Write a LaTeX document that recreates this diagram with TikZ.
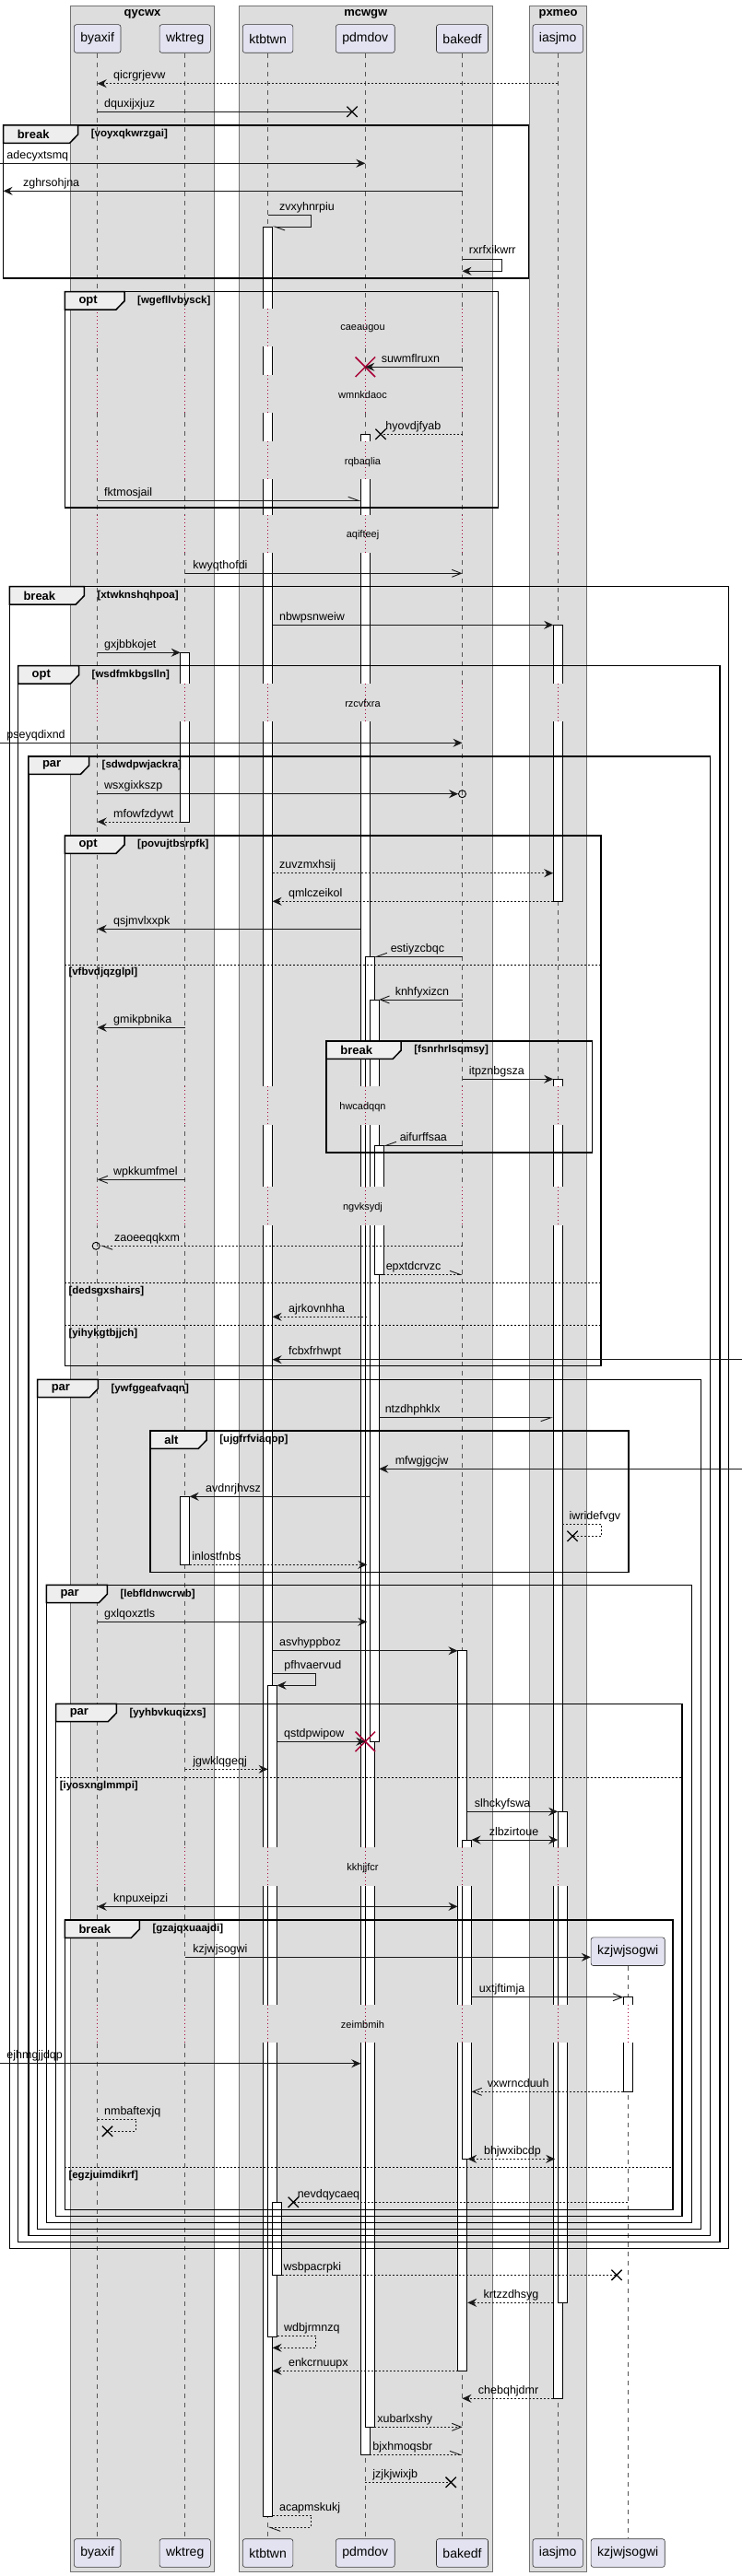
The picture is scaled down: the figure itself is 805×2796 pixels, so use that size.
\documentclass[tikz,border=0pt]{standalone}
\usepackage{fontspec}
\setmainfont{Liberation Sans}
\usetikzlibrary{arrows.meta,calc,shapes.misc}
\definecolor{boxGray}{HTML}{DDDDDD}
\definecolor{partFill}{HTML}{E2E2F0}
\definecolor{tabFill}{HTML}{EEEEEE}
\definecolor{delayRed}{HTML}{A80036}
\definecolor{lineGray}{HTML}{555555}
\newcommand{\msgfont}{\fontsize{12.5}{14}\selectfont}
% frame: x1, y1, x2, y2, keyword, tab width, guard
\newcommand{\seqframe}[7]{%
  \draw[grpframe] (#1,#2) rectangle (#3,#4);
  \draw[grptab] (#1,#2) -- ++(#6,0) -- ++(0,10) -- ++(-9,9.3) -- (#1,#2+19.3) -- cycle;
  \node[kw] (#7-kw) at (#1+15,#2+9.8) {#5};
  \node[guard] (#7) at (#1+#6+14,#2+9.8) {[#7]};
}
% else line: x1, x2, y, guard
\newcommand{\seqelse}[4]{%
  \draw[elseline] (#1,#3) -- (#2,#3);
  \node[guard] (#4) at (#1+4,#3+9) {[#4]};
}

\begin{document}
\begin{tikzpicture}[x=1pt, y=-1pt,
    partbox/.style={draw=black!80, fill=partFill, rounded corners=2.5pt, line width=0.6pt,
      minimum height=30.6pt, inner xsep=7pt, inner ysep=0pt, font=\fontsize{14}{16}\selectfont},
    grp/.style={draw=black!55, fill=boxGray, line width=0.6pt},
    grptitle/.style={font=\fontsize{13}{15}\selectfont\bfseries},
    life/.style={draw=lineGray, line width=0.7pt, dash pattern=on 5pt off 5pt},
    act/.style={draw=black, fill=white, line width=0.8pt},
    dly/.style={draw=delayRed, line width=0.8pt, dash pattern=on 1pt off 3pt},
    dlytxt/.style={font=\fontsize{11}{13}\selectfont},
    grpframe/.style={draw=black, line width=1.5pt},
    grptab/.style={draw=black, fill=tabFill, line width=1.5pt},
    kw/.style={anchor=west, inner sep=0pt, font=\fontsize{13}{15}\selectfont\bfseries},
    guard/.style={anchor=west, inner sep=0pt, font=\fontsize{11.5}{13}\selectfont\bfseries},
    elseline/.style={draw=black, line width=0.8pt, dash pattern=on 2pt off 2pt},
    msg/.style={draw=black!90, line width=0.9pt},
    dotmsg/.style={dash pattern=on 2pt off 2pt},
    sol/.style={-{Stealth[length=10pt,width=9pt,inset=3.5pt]}},
    bidir/.style={{Stealth[length=10pt,width=9pt,inset=3.5pt]}-{Stealth[length=10pt,width=9pt,inset=3.5pt]}},
    opn/.style={-{Straight Barb[length=10pt,width=8pt]}},
    hl/.style={-{Straight Barb[left,length=11pt,width=8pt]}},
    hr/.style={-{Straight Barb[right,length=11pt,width=8pt]}},
    lb/.style={anchor=base west, inner sep=0pt, yshift=5pt, font=\msgfont},
    lr/.style={lb, at start, xshift=7pt},
    ll/.style={lb, at end, xshift=17pt},
    xm/.style={cross out, draw=black, line width=1.3pt, minimum size=10pt, inner sep=0pt},
    rx/.style={cross out, draw=delayRed, line width=1.5pt, minimum size=20pt, inner sep=0pt},
    circ/.style={circle, draw=black, line width=0.9pt, minimum size=8pt, inner sep=0pt}
  ]
  \useasboundingbox (0,0) rectangle (805,2796);
  \fill[white] (0,0) rectangle (805,2796);

  % lifeline positions
  \coordinate (lft) at (0,0);
  \coordinate (rgt) at (805,0);
  \coordinate (by) at (105.7,0);
  \coordinate (wk) at (200.7,0);
  \coordinate (kt) at (290.6,0);
  \coordinate (pd) at (396.3,0);
  \coordinate (ba) at (501.5,0);
  \coordinate (ia) at (605.2,0);
  \coordinate (kz) at (681.2,0);

  % participant boxes
  \draw[grp] (76.5,6) rectangle (232.5,2791);
  \draw[grp] (259.2,6) rectangle (534.4,2791);
  \draw[grp] (574.4,6) rectangle (636.6,2791);
  \node[grptitle] (qycwx) at (154.5,15.5) {qycwx};
  \node[grptitle] (mcwgw) at (396.8,15.5) {mcwgw};
  \node[grptitle] (pxmeo) at (605.5,15.5) {pxmeo};

  % participants and lifelines
  \foreach \p/\n in {by/byaxif, wk/wktreg, kt/ktbtwn, pd/pdmdov, ba/bakedf, ia/iasjmo} {
    \node[partbox] (\n) at ($(\p)+(0,42)$) {\n};
    \node[partbox] (\n-b) at ($(\p)+(0,2771)$) {\n};
    \draw[life] (\n) -- (\n-b);
  }
  \node[partbox] (kzjwjsogwi) at ($(kz)+(0,2118.2)$) {kzjwjsogwi};
  \node[partbox] (kzjwjsogwi-b) at ($(kz)+(0,2771)$) {kzjwjsogwi};
  \draw[life] (kzjwjsogwi) -- (kzjwjsogwi-b);

  % activations
  \draw[act] (285.6,246) rectangle (295.6,2731);
  \draw[act] (290.6,1829.3) rectangle (300.6,2536);
  \draw[act] (295.6,2390.3) rectangle (305.6,2469.3);
  \draw[act] (391.3,471.3) rectangle (401.3,2664.3);
  \draw[act] (396.3,1038.3) rectangle (406.3,2634.3);
  \draw[act] (401.3,1085) rectangle (411.3,1890.3);
  \draw[act] (406.3,1243.3) rectangle (416.3,1383.3);
  \draw[act] (496.5,1791.7) rectangle (506.5,2573.3);
  \draw[act] (501.5,1997) rectangle (511.5,2343.3);
  \draw[act] (600.2,678.3) rectangle (610.2,978.3);
  \draw[act] (600.2,1171.3) rectangle (610.2,2603.3);
  \draw[act] (605.2,1966.3) rectangle (615.2,2499.3);
  \draw[act] (195.7,708.3) rectangle (205.7,892);
  \draw[act] (195.7,1624.3) rectangle (205.7,1698.3);
  \draw[act] (676.2,2167.7) rectangle (686.2,2270.3);

  % delays
  \foreach \ya/\yb in {335/375.7, 406.7/448.3, 479.3/520.3, 558.7/600, 741.7/783.3,
      1179.3/1221, 1288.3/1330, 2005/2046.7, 2175.7/2216.7} {
    \foreach \lx in {105.7,200.7,290.6,396.3,501.5,605.2} {
      \fill[boxGray] (\lx-7,\ya) rectangle (\lx+22,\yb);
      \draw[dly] (\lx,\ya) -- (\lx,\yb);
    }
  }
  \fill[white] (674.2,2175.7) rectangle (703.2,2216.7);
  \draw[dly] (681.2,2175.7) -- (681.2,2216.7);
  \node[dlytxt] (caeaugou) at (393.5,356.7) {caeaugou};
  \node[dlytxt] (wmnkdaoc) at (393.5,428.3) {wmnkdaoc};
  \node[dlytxt] (rqbaqlia) at (393.5,501.7) {rqbaqlia};
  \node[dlytxt] (aqifteej) at (393.5,580.7) {aqifteej};
  \node[dlytxt] (rzcvfxra) at (393.5,763.3) {rzcvfxra};
  \node[dlytxt] (hwcadqqn) at (393.5,1201.7) {hwcadqqn};
  \node[dlytxt] (ngvksydj) at (393.5,1310.7) {ngvksydj};
  \node[dlytxt] (kkhjjfcr) at (393.5,2027.3) {kkhjjfcr};
  \node[dlytxt] (zeimbmih) at (393.5,2197.7) {zeimbmih};

  % frames
  \seqframe{3.6}{136}{573.4}{302}{break}{81}{voyxqkwrzgai}
  \seqframe{70.3}{316.7}{540.6}{551}{opt}{64.7}{wgefllvbysck}
  \seqframe{10.3}{636.7}{790.5}{2440.7}{break}{81}{xtwknshqhpoa}
  \seqframe{19.5}{722.7}{780.8}{2433.7}{opt}{66}{wsdfmkbgslln}
  \seqframe{30.8}{821}{770.5}{2426.7}{par}{65.7}{sdwdpwjackra}
  \seqframe{70.3}{907}{652}{1482.7}{opt}{64.7}{povujtbsrpfk}
  \seqelse{70.3}{652}{1047}{vfbvdjqzglpl}
  \seqelse{70.3}{652}{1392.7}{dedsgxshairs}
  \seqelse{70.3}{652}{1438.7}{yihykgtbjjch}
  \seqframe{354.2}{1130}{642.7}{1251}{break}{81}{fsnrhrlsqmsy}
  \seqframe{40.6}{1497.3}{760.3}{2419.3}{par}{65.7}{ywfggeafvaqn}
  \seqframe{163.2}{1553}{682.2}{1706.7}{alt}{61}{ujgfrfviaqop}
  \seqframe{50.3}{1720.3}{750.5}{2412.3}{par}{66}{lebfldnwcrwb}
  \seqframe{60.6}{1849.3}{740.2}{2405.3}{par}{65.7}{yyhbvkuqizxs}
  \seqelse{60.6}{740.2}{1929.3}{iyosxnglmmpi}
  \seqframe{70.3}{2084}{730}{2398.3}{break}{81}{gzajqxuaajdi}
  \seqelse{70.3}{730}{2352.3}{egzjuimdikrf}

  % end marks
  \node[xm] (x1) at ($(pd)+(-14.3,121.3)$) {};
  \node[rx] (x2) at ($(pd)+(0,398.3)$) {};
  \node[xm] (x3) at ($(pd)+(16.7,471.3)$) {};
  \node[circ] (c1) at ($(ba)+(0,861.7)$) {};
  \node[circ] (c2) at ($(by)+(-1.5,1352.3)$) {};
  \node[xm] (x4) at ($(ia)+(15.9,1667.3)$) {};
  \node[rx] (x5) at ($(pd)+(0,1890.3)$) {};
  \node[xm] (x6) at ($(by)+(10.8,2313.3)$) {};
  \node[xm] (x7) at ($(kt)+(27.7,2390.3)$) {};
  \node[xm] (x8) at ($(kz)+(-12.2,2469.3)$) {};
  \node[xm] (x9) at ($(ba)+(-12.3,2694.3)$) {};

  % messages
  \draw[msg,dotmsg,sol] ($(ia)+(0,90.7)$) -- ($(by)+(0,90.7)$) node[ll]{qicrgrjevw};
  \draw[msg] ($(by)+(0,121.3)$) -- (x1.center) node[lr]{dquxijxjuz};
  \draw[msg,sol] ($(lft)+(0,177.3)$) -- ($(pd)+(0,177.3)$) node[lr]{adecyxtsmq};
  \draw[msg,sol] ($(ba)+(0,207.3)$) -- ($(lft)+(3.6,207.3)$) node[ll,xshift=4pt]{zghrsohjna};
  \draw[msg,hl] ($(kt)+(0,233.3)$) -- ++(46.7,0) node[lr,xshift=5pt]{zvxyhnrpiu} |- ($(kt)+(5,246)$);
  \draw[msg,sol] ($(ba)+(0,281)$) -- ++(42.5,0) node[lr]{rxrfxikwrr} |- ($(ba)+(0,294.3)$);
  \draw[msg,sol] ($(ba)+(0,398.3)$) -- (x2.center) node[ll]{suwmflruxn};
  \draw[msg,dotmsg] ($(ba)+(0,471.3)$) -- (x3.center) node[lb,at end,xshift=5pt]{hyovdjfyab};
  \draw[msg,hl] ($(by)+(0,543.3)$) -- ($(pd)+(-5,543.3)$) node[lr]{fktmosjail};
  \draw[msg,opn] ($(wk)+(0,622.3)$) -- ($(ba)+(0,622.3)$) node[lr,xshift=1.3pt]{kwyqthofdi};
  \draw[msg,sol] ($(kt)+(5,678.3)$) -- ($(ia)+(-5,678.3)$) node[lr]{nbwpsnweiw};
  \draw[msg,sol] ($(by)+(0,708.3)$) -- ($(wk)+(-5,708.3)$) node[lr]{gxjbbkojet};
  \draw[msg,sol] ($(lft)+(0,806.3)$) -- ($(ba)+(0,806.3)$) node[lr]{pseyqdixnd};
  \draw[msg,sol] ($(by)+(0,861.7)$) -- (c1) node[lr]{wsxgixkszp};
  \draw[msg,dotmsg,sol] ($(wk)+(-5,892)$) -- ($(by)+(0,892)$) node[ll]{mfowfzdywt};
  \draw[msg,dotmsg,sol] ($(kt)+(5,947.7)$) -- ($(ia)+(-5,947.7)$) node[lr]{zuvzmxhsij};
  \draw[msg,dotmsg,sol] ($(ia)+(-5,978.3)$) -- ($(kt)+(5,978.3)$) node[ll]{qmlczeikol};
  \draw[msg,sol] ($(pd)+(-5,1008.3)$) -- ($(by)+(0,1008.3)$) node[ll]{qsjmvlxxpk};
  \draw[msg,hr] ($(ba)+(0,1038.3)$) -- ($(pd)+(10,1038.3)$) node[ll]{estiyzcbqc};
  \draw[msg,opn] ($(ba)+(0,1085)$) -- ($(pd)+(15,1085)$) node[ll]{knhfyxizcn};
  \draw[msg,sol] ($(wk)+(0,1115.3)$) -- ($(by)+(0,1115.3)$) node[ll]{gmikpbnika};
  \draw[msg,sol] ($(ba)+(0,1171.3)$) -- ($(ia)+(-5,1171.3)$) node[lr]{itpznbgsza};
  \draw[msg,hr] ($(ba)+(0,1243.3)$) -- ($(pd)+(20,1243.3)$) node[ll]{aifurffsaa};
  \draw[msg,opn] ($(wk)+(0,1280.3)$) -- ($(by)+(0,1280.3)$) node[ll]{wpkkumfmel};
  \draw[msg,dotmsg,hl] ($(ba)+(0,1352.3)$) -- (c2) node[ll,xshift=-2pt]{zaoeeqqkxm};
  \draw[msg,dotmsg,hl] ($(pd)+(20,1383.3)$) -- ($(ba)+(0,1383.3)$) node[lb,at start,xshift=2pt]{epxtdcrvzc};
  \draw[msg,dotmsg,sol] ($(pd)+(2,1429.3)$) -- ($(kt)+(5,1429.3)$) node[ll]{ajrkovnhha};
  \draw[msg,sol] ($(rgt)+(0,1475.7)$) -- ($(kt)+(5,1475.7)$) node[ll]{fcbxfrhwpt};
  \draw[msg,hr] ($(pd)+(15,1538.7)$) -- ($(ia)+(-5,1538.7)$) node[lr,xshift=-1pt]{ntzdhphklx};
  \draw[msg,sol] ($(rgt)+(0,1594.3)$) -- ($(pd)+(15,1594.3)$) node[ll]{mfwgjgcjw};
  \draw[msg,sol] ($(pd)+(5,1624.3)$) -- ($(wk)+(5,1624.3)$) node[ll]{avdnrjhvsz};
  \draw[msg,dotmsg] ($(ia)+(5,1654.3)$) -- ++(42.3,0) node[lr]{iwridefvgv} |- (x4.center);
  \draw[msg,dotmsg,sol] ($(wk)+(5,1698.3)$) -- ($(pd)+(2,1698.3)$) node[lb,at start,xshift=2.3pt]{inlostfnbs};
  \draw[msg,sol] ($(by)+(0,1760.3)$) -- ($(pd)+(2,1760.3)$) node[lr]{gxlqoxztls};
  \draw[msg,sol] ($(kt)+(5,1791.7)$) -- ($(ba)+(-5,1791.7)$) node[lr]{asvhyppboz};
  \draw[msg,sol] ($(kt)+(5,1816.3)$) -- ++(46.8,0) node[lr,xshift=5.4pt]{pfhvaervud} |- ($(kt)+(10,1829.3)$);
  \draw[msg,sol] ($(kt)+(10,1890.3)$) -- (x5.center) node[lr]{qstdpwipow};
  \draw[msg,dotmsg,sol] ($(wk)+(0,1920.3)$) -- ($(kt)+(0,1920.3)$) node[lr,xshift=1.3pt]{jgwklqgeqj};
  \draw[msg,sol] ($(ba)+(5,1966.3)$) -- ($(ia)+(0,1966.3)$) node[lr,xshift=1pt]{slhckyfswa};
  \draw[msg,bidir] ($(ba)+(10,1997)$) -- ($(ia)+(0,1997)$) node[lr,xshift=11.8pt]{zlbzirtoue};
  \draw[msg,bidir] ($(by)+(0,2069.3)$) -- ($(ba)+(-5,2069.3)$) node[lr,xshift=10pt]{knpuxeipzi};
  \draw[msg,sol] ($(wk)+(0,2124.3)$) -- ($(kzjwjsogwi.west)+(0,6.1)$) node[lr,xshift=1.3pt]{kzjwjsogwi};
  \draw[msg,opn] ($(ba)+(10,2167.7)$) -- ($(kz)+(-5,2167.7)$) node[lr,xshift=1pt]{uxtjftimja};
  \draw[msg,sol] ($(lft)+(0,2239.7)$) -- ($(pd)+(-5,2239.7)$) node[lr]{ejhmgjjdqp};
  \draw[msg,dotmsg,opn] ($(kz)+(-5,2270.3)$) -- ($(ba)+(10,2270.3)$) node[ll]{vxwrncduuh};
  \draw[msg,dotmsg] ($(by)+(0,2300)$) -- ++(41.6,0) node[lr]{nmbaftexjq} |- (x6.center);
  \draw[msg,dotmsg,bidir] ($(ba)+(5.7,2343.3)$) -- ($(ia)+(-3,2343.3)$) node[lr,xshift=10.4pt]{bhjwxibcdp};
  \draw[msg,dotmsg] ($(kz)+(0,2390.3)$) -- (x7.center) node[lb,at end,xshift=4pt]{nevdqycaeq};
  \draw[msg,dotmsg] ($(kt)+(15,2469.3)$) -- (x8.center) node[lb,at start,xshift=1.5pt]{wsbpacrpki};
  \draw[msg,dotmsg,sol] ($(ia)+(-5,2499.3)$) -- ($(ba)+(5.7,2499.3)$) node[ll]{krtzzdhsyg};
  \draw[msg,dotmsg,sol] ($(kt)+(10,2535)$) -- ++(41.8,0) node[lr]{wdbjrmnzq} |- ($(kt)+(5,2548.3)$);
  \draw[msg,dotmsg,sol] ($(ba)+(-5,2573.3)$) -- ($(kt)+(5,2573.3)$) node[ll]{enkcrnuupx};
  \draw[msg,dotmsg,sol] ($(ia)+(-5,2603.3)$) -- ($(ba)+(0,2603.3)$) node[ll]{chebqhjdmr};
  \draw[msg,dotmsg,opn] ($(pd)+(10,2634.3)$) -- ($(ba)+(0,2634.3)$) node[lb,at start,xshift=2.7pt]{xubarlxshy};
  \draw[msg,dotmsg,hl] ($(pd)+(5,2664.3)$) -- ($(ba)+(0,2664.3)$) node[lb,at start,xshift=2.7pt]{bjxhmoqsbr};
  \draw[msg,dotmsg] ($(pd)+(0,2694.3)$) -- (x9.center) node[lr,xshift=0.7pt]{jzjkjwixjb};
  \draw[msg,dotmsg,hl] ($(kt)+(5,2730)$) -- ++(41.7,0) node[lr]{acapmskukj} |- ($(kt)+(0,2743.3)$);
\end{tikzpicture}
\end{document}
